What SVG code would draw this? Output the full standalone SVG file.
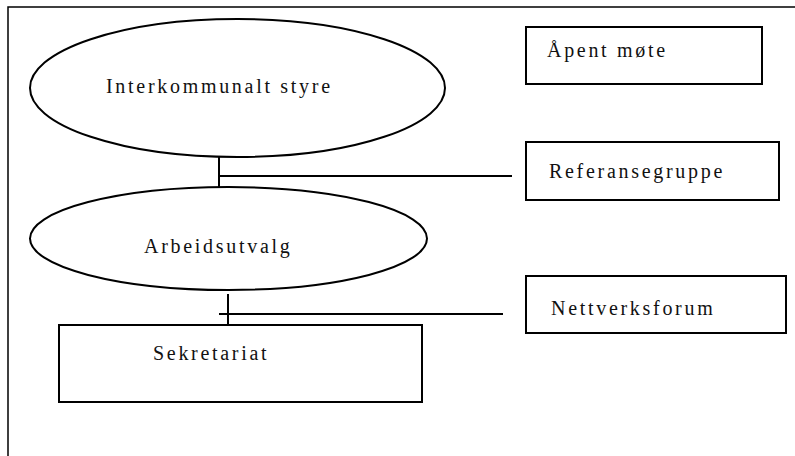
<svg xmlns="http://www.w3.org/2000/svg" width="795" height="456" viewBox="0 0 795 456">
<style>
.shape{fill:#fff;stroke:#000;stroke-width:2}
.frame{fill:none;stroke:#000;stroke-width:1.5}
.conn{stroke:#000;stroke-width:2;fill:none}
text{font-family:'Liberation Serif','DejaVu Serif',serif;font-size:20px;letter-spacing:2.7px;fill:#111}
</style>
<rect class="frame" x="8" y="7" width="800" height="460"/>
<g id="connectors">
<line class="conn" x1="219" y1="157" x2="219" y2="188"/>
<line class="conn" x1="218" y1="176" x2="512" y2="176"/>
<line class="conn" x1="228" y1="294" x2="228" y2="325"/>
<line class="conn" x1="219" y1="314" x2="503" y2="314"/>
</g>
<g id="interkommunalt-styre">
<ellipse class="shape" cx="237.5" cy="88" rx="207.5" ry="69"/>
<text x="106" y="93" font-family="Liberation Serif, serif">Interkommunalt styre</text>
</g>
<g id="arbeidsutvalg">
<ellipse class="shape" cx="228.5" cy="238.5" rx="198.5" ry="51.5"/>
<text x="144" y="253" font-family="Liberation Serif, serif">Arbeidsutvalg</text>
</g>
<g id="sekretariat">
<rect class="shape" x="59" y="325" width="363" height="77"/>
<text x="153" y="360" font-family="Liberation Serif, serif">Sekretariat</text>
</g>
<g id="apent-mote">
<rect class="shape" x="526" y="27" width="236" height="57"/>
<text x="547" y="57" font-family="Liberation Serif, serif">Åpent møte</text>
</g>
<g id="referansegruppe">
<rect class="shape" x="526" y="142" width="253" height="58"/>
<text x="549" y="178" font-family="Liberation Serif, serif">Referansegruppe</text>
</g>
<g id="nettverksforum">
<rect class="shape" x="526" y="276" width="260" height="57"/>
<text x="551" y="315" font-family="Liberation Serif, serif">Nettverksforum</text>
</g>
</svg>
